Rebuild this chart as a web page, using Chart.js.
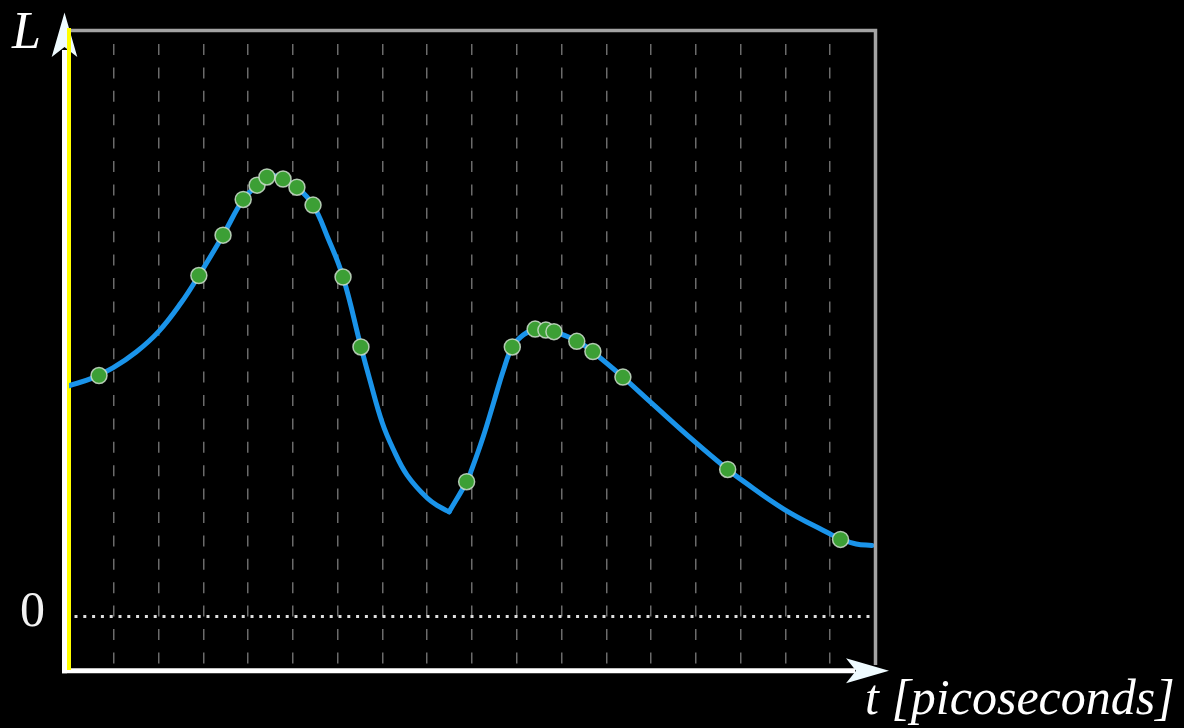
<!DOCTYPE html>
<html>
<head>
<meta charset="utf-8">
<script src="https://cdn.jsdelivr.net/npm/chart.js@4"></script>
<style>
  html, body { margin: 0; padding: 0; background: #000; }
  #wrap { width: 1184px; height: 728px; }
</style>
</head>
<body>
<div id="wrap"><canvas id="chart" width="1184" height="728"></canvas></div>
<script>
// Time axis range and the vertical guide positions
const tRange = [0, 18];
const gridSteps = [1, 2, 3, 4, 5, 6, 7, 8, 9, 10, 11, 12, 13, 14, 15, 16, 17];
// L axis range and its single labelled tick
const lRange = [-1, 11.5];
const zeroTick = [0];

// Smooth curve, first branch (up to the kink)
const curveAT = [0, 0.49, 0.98, 1.50, 2.01, 2.50, 2.90, 3.44, 3.89, 4.20, 4.42, 4.56, 4.78, 5.09, 5.45, 5.78, 6.12, 6.52, 6.72, 6.99, 7.24, 7.55, 8.00, 8.29, 8.49];
const curveAL = [4.53, 4.67, 4.88, 5.19, 5.60, 6.15, 6.69, 7.48, 8.18, 8.46, 8.62, 8.65, 8.58, 8.42, 8.07, 7.43, 6.66, 5.29, 4.64, 3.82, 3.29, 2.78, 2.33, 2.15, 2.06];
// Smooth curve, second branch (from the kink onward)
const curveBT = [8.49, 8.88, 8.99, 9.25, 9.48, 9.70, 9.90, 10.15, 10.41, 10.65, 10.83, 11.34, 11.70, 12.37, 13.00, 13.98, 14.71, 14.98, 15.97, 16.97, 17.23, 17.58, 17.93];
const curveBL = [2.06, 2.65, 2.88, 3.53, 4.19, 4.83, 5.29, 5.53, 5.63, 5.63, 5.59, 5.41, 5.19, 4.70, 4.20, 3.43, 2.89, 2.71, 2.11, 1.64, 1.53, 1.43, 1.40];

// Sampled points on the curve
const sampleT = [0.67, 2.90, 3.44, 3.89, 4.20, 4.42, 4.78, 5.09, 5.45, 6.12, 6.52, 8.88, 9.90, 10.41, 10.65, 10.83, 11.34, 11.70, 12.37, 14.71, 17.23];
const sampleL = [4.73, 6.69, 7.48, 8.18, 8.46, 8.62, 8.58, 8.42, 8.07, 6.66, 5.29, 2.65, 5.29, 5.64, 5.62, 5.59, 5.40, 5.20, 4.70, 2.89, 1.52];

const yAxisName = 'L';
const xAxisName = 't [picoseconds]';

const pairs = (xs, ys) => xs.map((x, i) => ({ x: x, y: ys[i] }));

// Arrowhead with a notched back
function arrowHead(ctx, tip, back1, notch, back2, color) {
  ctx.fillStyle = color;
  ctx.beginPath();
  ctx.moveTo(tip[0], tip[1]);
  ctx.lineTo(back1[0], back1[1]);
  ctx.lineTo(notch[0], notch[1]);
  ctx.lineTo(back2[0], back2[1]);
  ctx.closePath();
  ctx.fill();
}

const axesArt = {
  id: 'axesArt',
  beforeDraw(chart) {
    const { ctx, chartArea: a } = chart;
    ctx.save();
    ctx.fillStyle = '#000';
    ctx.fillRect(0, 0, chart.width, chart.height);

    const ax = a.left - 4.5;
    const ay = a.bottom + 2.8;
    ctx.strokeStyle = '#ffffff';
    ctx.lineWidth = 5;
    // vertical arrow shaft
    ctx.beginPath();
    ctx.moveTo(ax, a.top + 20);
    ctx.lineTo(ax, ay + 2.5);
    ctx.stroke();
    // horizontal arrow shaft
    ctx.beginPath();
    ctx.moveTo(ax - 2.5, ay);
    ctx.lineTo(a.right - 20, ay);
    ctx.stroke();

    arrowHead(ctx, [ax, a.top - 17.5], [ax - 12.8, a.top + 27], [ax, a.top + 17], [ax + 12.8, a.top + 27], '#effbff');
    arrowHead(ctx, [a.right + 14, ay], [a.right - 29, ay - 12.5], [a.right - 19, ay], [a.right - 29, ay + 12.5], '#effbff');
    ctx.restore();
  },
  afterDraw(chart) {
    const { ctx, chartArea: a } = chart;
    ctx.save();
    // grey frame on top and right
    ctx.strokeStyle = '#a3a3a3';
    ctx.lineWidth = 3.5;
    ctx.beginPath();
    ctx.moveTo(a.left + 2, a.top + 0.5);
    ctx.lineTo(a.right + 0.5, a.top + 0.5);
    ctx.lineTo(a.right + 0.5, a.bottom - 3);
    ctx.stroke();

    ctx.fillStyle = '#ffffff';
    ctx.textBaseline = 'alphabetic';
    ctx.textAlign = 'left';
    ctx.font = 'italic 52px "Liberation Serif"';
    ctx.fillText(yAxisName, 12, a.top + 18);
    ctx.font = 'italic 50px "Liberation Serif"';
    ctx.fillText(xAxisName, a.right - 10, a.bottom + 46);
    ctx.restore();
  }
};

const curveStyle = {
  showLine: true,
  borderColor: '#1a94ea',
  borderWidth: 5,
  borderCapStyle: 'round',
  pointRadius: 0,
  tension: 0.4,
  fill: false,
  order: 1
};

new Chart(document.getElementById('chart'), {
  type: 'scatter',
  data: {
    datasets: [
      {
        label: 'samples',
        data: pairs(sampleT, sampleL),
        pointRadius: 8,
        pointBackgroundColor: '#3c9f35',
        pointBorderColor: 'rgba(205,222,205,0.85)',
        pointBorderWidth: 1.5,
        showLine: false,
        order: 0
      },
      Object.assign({ label: 'branch A', data: pairs(curveAT, curveAL) }, curveStyle),
      Object.assign({ label: 'branch B', data: pairs(curveBT, curveBL) }, curveStyle)
    ]
  },
  options: {
    responsive: false,
    animation: false,
    events: [],
    layout: { padding: { top: 30, right: 309, left: 0, bottom: 0 } },
    plugins: { legend: { display: false }, tooltip: { enabled: false } },
    scales: {
      x: {
        type: 'linear',
        min: tRange[0],
        max: tRange[1],
        afterFit(s) { s.height = 60; s.paddingLeft = 0; s.paddingRight = 0; },
        afterBuildTicks(s) { s.ticks = gridSteps.map(v => ({ value: v })); },
        ticks: { display: false },
        grid: { color: 'rgba(255,255,255,0.42)', lineWidth: 1.5, drawTicks: false },
        border: { display: false, dash: [11, 12.4], dashOffset: 9.4 }
      },
      y: {
        type: 'linear',
        min: lRange[0],
        max: lRange[1],
        afterFit(s) { s.width = 69; s.paddingTop = 0; s.paddingBottom = 0; },
        afterBuildTicks(s) { s.ticks = zeroTick.map(v => ({ value: v })); },
        ticks: {
          color: '#f2f2f2',
          font: { family: 'Liberation Serif', size: 50 },
          padding: 24,
          labelOffset: -4,
          callback: v => String(v)
        },
        grid: { color: '#dedede', lineWidth: 3, drawTicks: false },
        border: { display: true, color: '#ffff00', width: 4, dash: [3, 5.8], dashOffset: 5.3 }
      }
    }
  },
  plugins: [axesArt]
});
</script>
</body>
</html>
